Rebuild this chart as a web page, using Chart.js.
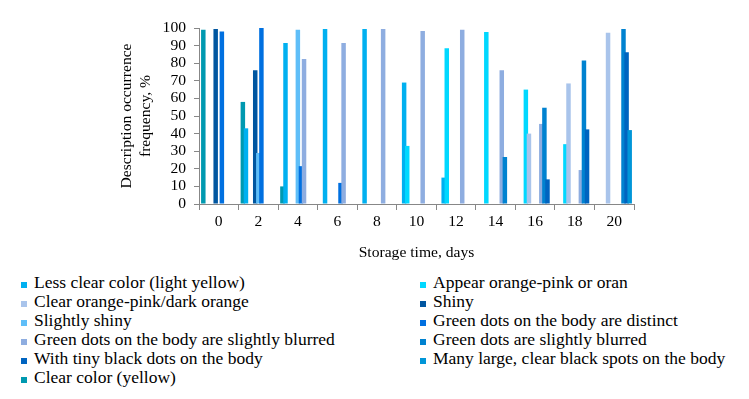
<!DOCTYPE html>
<html>
<head>
<meta charset="utf-8">
<script src="https://cdn.jsdelivr.net/npm/chart.js@4.4.1/dist/chart.umd.min.js"></script>
<style>
    html, body { margin: 0; padding: 0; background: #fff; }
    #wrap { position: relative; width: 749px; height: 399px; overflow: hidden; }
    #chart { position: absolute; left: 0; top: 0; }
    #legend {
        position: absolute; left: 21px; top: 273px;
        display: grid; grid-template-columns: 399px auto;
        font-family: 'Liberation Serif', 'DejaVu Serif', serif; font-size: 17.5px; color: #000;
    }
    #legend .item { height: 19px; line-height: 19px; white-space: nowrap; }
    #legend .box { display: inline-block; width: 6px; height: 6px; margin-right: 7px; }
</style>
</head>
<body>
<div id="wrap">
    <canvas id="chart" width="749" height="265"></canvas>
    <div id="legend"></div>
</div>
<script>
// Storage time (days)
const days = ['0', '2', '4', '6', '8', '10', '12', '14', '16', '18', '20'];

// Description occurrence frequency, % (one array per description)
const clearYellow     = [99, 58, 10, 0, 0, 0, 0, 0, 0, 0, 0];
const lessClear       = [0, 43, 91.5, 99.4, 99.4, 69, 15, 0, 0, 0, 0];
const appearOrange    = [0, 0, 0, 0, 0, 33, 88.5, 97.7, 65, 34, 0];
const clearOrange     = [0, 0, 0, 0, 0, 0, 0, 0, 40, 68.5, 97.3];
const shiny           = [99.4, 76, 0, 0, 0, 0, 0, 0, 0, 0, 0];
const slightlyShiny   = [0, 29, 99, 0, 0, 0, 0, 0, 0, 0, 0];
const dotsDistinct    = [98, 100, 21.5, 12, 0, 0, 0, 0, 0, 0, 0];
const dotsBodyBlurred = [0, 0, 82.4, 91.5, 99.4, 98.3, 99, 76, 45.5, 19.3, 0];
const dotsBlurred     = [0, 0, 0, 0, 0, 0, 0, 26.7, 54.7, 81.6, 99.4];
const tinyBlackDots   = [0, 0, 0, 0, 0, 0, 0, 0, 14, 42.4, 86.2];
const largeBlackSpots = [0, 0, 0, 0, 0, 0, 0, 0, 0, 0, 42];

const yTicks = [0, 10, 20, 30, 40, 50, 60, 70, 80, 90, 100];

const FONT = "'Liberation Serif', 'DejaVu Serif', serif";
const AXIS = '#878787';

const series = [
    { label: 'Clear color (yellow)', data: clearYellow, color: '#0099B0' },
    { label: 'Less clear color (light yellow)', data: lessClear, color: '#00B0F0' },
    { label: 'Appear orange-pink or oran', data: appearOrange, color: '#00D8FF' },
    { label: 'Clear orange-pink/dark orange', data: clearOrange, color: '#A9C4EB' },
    { label: 'Shiny', data: shiny, color: '#0056A0' },
    { label: 'Slightly shiny', data: slightlyShiny, color: '#5FBEF8' },
    { label: 'Green dots on the body are distinct', data: dotsDistinct, color: '#0070E0' },
    { label: 'Green dots on the body are slightly blurred', data: dotsBodyBlurred, color: '#8EADE0' },
    { label: 'Green dots are slightly blurred', data: dotsBlurred, color: '#0082D0' },
    { label: 'With tiny black dots on the body', data: tinyBlackDots, color: '#0064C0' },
    { label: 'Many large, clear black spots on the body', data: largeBlackSpots, color: '#0096D8' }
];

// legend reads row by row: series 1..10, then series 0
const legendOrder = [1, 2, 3, 4, 5, 6, 7, 8, 9, 10, 0];

// later series are painted over earlier ones (bars overlap a little)
const drawInOrder = {
    id: 'drawInOrder',
    beforeDatasetsDraw(chart) {
        for (let i = 0; i < chart.data.datasets.length; i++) {
            chart.getDatasetMeta(i).controller.draw();
        }
        return false;
    }
};

const chart = new Chart(document.getElementById('chart'), {
    type: 'bar',
    data: {
        labels: days,
        datasets: series.map(s => ({
            label: s.label,
            data: s.data,
            backgroundColor: s.color,
            borderWidth: 0,
            categoryPercentage: 0.86,
            barPercentage: 1.45
        }))
    },
    options: {
        responsive: false,
        animation: false,
        devicePixelRatio: 1,
        layout: { padding: { left: 118, right: 115, top: 28, bottom: 0 } },
        plugins: { legend: { display: false }, tooltip: { enabled: false } },
        scales: {
            x: {
                offset: true,
                grid: { offset: true, drawOnChartArea: false, tickLength: 6, color: AXIS },
                border: { color: AXIS },
                ticks: { color: '#000', font: { family: FONT, size: 15.6 }, padding: 3, maxRotation: 0 },
                title: { display: true, text: 'Storage time, days', color: '#000', font: { family: FONT, size: 15.6 }, padding: { top: 0, bottom: 3 } },
                afterFit: s => { s.height = 61; }
            },
            y: {
                min: 0,
                max: 100,
                afterBuildTicks: s => { s.ticks = yTicks.map(v => ({ value: v })); },
                grid: { drawOnChartArea: false, tickLength: 5, color: AXIS },
                border: { color: AXIS },
                ticks: { color: '#000', font: { family: FONT, size: 15.6 }, padding: 8, autoSkip: false },
                title: { display: true, text: ['Description occurrence', 'frequency, %'], color: '#000', font: { family: FONT, size: 15.6 }, padding: 0 },
                afterFit: s => { s.width = 81; }
            }
        }
    },
    plugins: [drawInOrder]
});

// HTML legend in two columns, like the original
const items = chart.options.plugins.legend.labels.generateLabels(chart);
const legend = document.getElementById('legend');
legend.innerHTML = legendOrder.map(i => `
    <div class="item"><span class="box" style="background:${items[i].fillStyle}"></span>${items[i].text}</div>
`).join('');
</script>
</body>
</html>
